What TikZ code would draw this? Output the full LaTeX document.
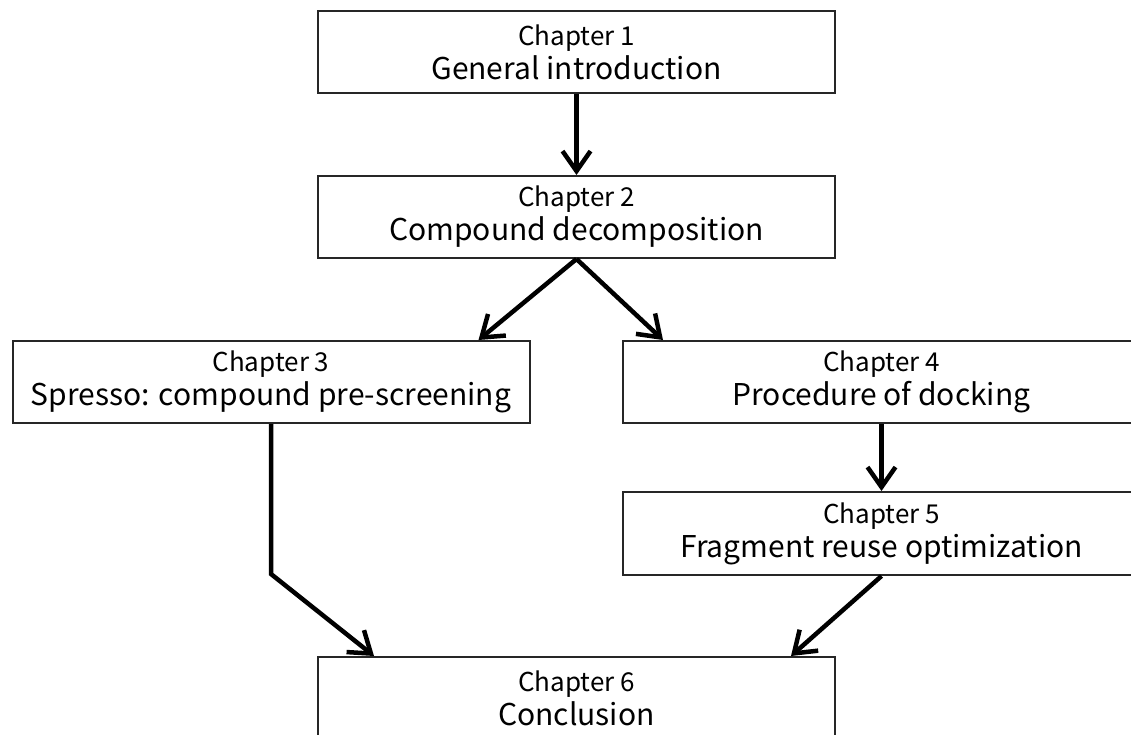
\documentclass[tikz,border=0pt]{standalone}
\usepackage{fontspec}
\setmainfont{Noto Sans CJK JP}
\usetikzlibrary{arrows.meta,calc}

\tikzset{
  chapbox/.style={draw=black!85, line width=2pt, rectangle, minimum width=517pt,
    minimum height=82pt, inner sep=0pt, align=center,
    font=\fontsize{30}{34}\selectfont},
  flow/.style={line width=4.5pt, -{Straight Barb[length=20pt,width=28pt]}}
}
\newcommand{\chapno}[1]{{\fontsize{26}{34}\selectfont #1}}

\begin{document}
\begin{tikzpicture}[x=1pt,y=-1pt]
\useasboundingbox (0,0) rectangle (1131,735);
\node[chapbox] (ch1) at (576.5,52) {\chapno{Chapter 1}\\General introduction};
\node[chapbox] (ch2) at (576.5,217) {\chapno{Chapter 2}\\Compound decomposition};
\node[chapbox] (ch3) at (271,382) {\chapno{Chapter 3}\\Spresso: compound pre-screening};
\node[chapbox] (ch4) at (881.5,382) {\chapno{Chapter 4}\\Procedure of docking};
\node[chapbox, minimum height=83pt] (ch5) at (881.5,533.5) {\chapno{Chapter 5}\\Fragment reuse optimization};
\node[chapbox] (ch6) at (576.5,698) {\chapno{Chapter 6}\\Conclusion};

\draw[flow] (ch1.south) -- (ch2.north);
\draw[flow] (ch2.south) -- ($(ch3.north east)+(-52,0)$);
\draw[flow] (ch2.south) -- ($(ch4.north west)+(41,0)$);
\draw[flow] (ch4.south) -- (ch5.north);
\draw[flow] (ch3.south) -- ($(ch3.south)+(0,150)$) -- ($(ch6.north west)+(57,0)$);
\draw[flow] (ch5.south) -- ($(ch6.north east)+(-45,0)$);
\end{tikzpicture}
\end{document}
